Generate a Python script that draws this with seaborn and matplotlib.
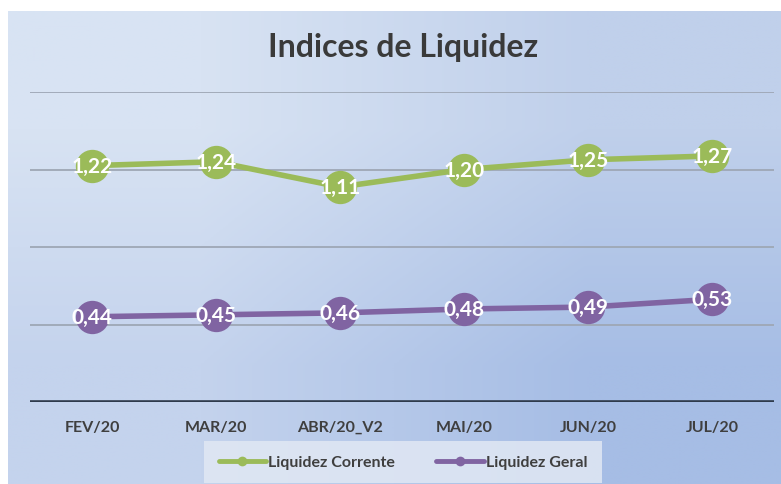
import numpy as np
import pandas as pd
import seaborn as sns
import matplotlib.pyplot as plt

# Data
meses = ["FEV/20", "MAR/20", "ABR/20_V2", "MAI/20", "JUN/20", "JUL/20"]
liquidez_corrente = [1.22, 1.24, 1.11, 1.20, 1.25, 1.27]
liquidez_geral = [0.44, 0.45, 0.46, 0.48, 0.49, 0.53]
series = ["Liquidez Corrente", "Liquidez Geral"]
cores = ["#9bbb59", "#8064a2"]

df = pd.DataFrame({
    "mes": meses * 2,
    "valor": liquidez_corrente + liquidez_geral,
    "serie": [series[0]] * len(meses) + [series[1]] * len(meses),
})

sns.set_theme(style="white")
plt.rcParams["font.family"] = ["Lato", "DejaVu Sans"]

fig = plt.figure(figsize=(7.81, 4.85), dpi=100)
fig.patch.set_facecolor("white")

# Gradient background panel
bg = fig.add_axes([8 / 781, 0, 1 - 8 / 781, 1 - 12 / 485])
grad = np.array([
    [[216, 227, 243], [192, 208, 235]],
    [[196, 211, 237], [166, 189, 229]],
]) / 255.0
bg.imshow(grad, aspect="auto", interpolation="bilinear", extent=[0, 1, 0, 1])
bg.set_axis_off()

# Plot area
ax = fig.add_axes([30 / 781, 82 / 485, 744 / 781, 310 / 485])
ax.patch.set_alpha(0)

for y in [0.4, 0.8, 1.2, 1.6]:
    ax.axhline(y, color="#9ea7b5", lw=1.3, zorder=0)
ax.axhline(0, color="#2f3b4c", lw=2.6, zorder=1)

sns.lineplot(data=df, x="mes", y="valor", hue="serie", palette=cores,
             marker="o", markersize=24, markeredgewidth=0, linewidth=4,
             sort=False, ax=ax, zorder=3)

for vals in [liquidez_corrente, liquidez_geral]:
    for i, v in enumerate(vals):
        ax.text(i, v, f"{v:.2f}".replace(".", ","), ha="center", va="center",
                color="white", fontsize=15, fontweight="bold", zorder=4)

ax.set_xlim(-0.5, len(meses) - 0.5)
ax.set_ylim(0, 1.6)
ax.set_yticks([])
ax.set_xlabel("")
ax.set_ylabel("")
ax.tick_params(axis="x", length=0, pad=13, labelsize=11.5, labelcolor="#3f3f3f")
for lbl in ax.get_xticklabels():
    lbl.set_fontweight("bold")
for s in ax.spines.values():
    s.set_visible(False)

fig.text(403 / 781, 1 - 47 / 485, "Indices de Liquidez", ha="center", va="center",
         fontsize=23, fontweight="bold", color="#3a3a3a")

handles, labels = ax.get_legend_handles_labels()
for h in handles:
    h.set_markersize(7)
    h.set_linewidth(3.5)
leg = ax.legend(handles, labels, loc="center", bbox_to_anchor=(403 / 781, 1 - 463 / 485),
                bbox_transform=fig.transFigure, ncol=2, frameon=True, handlelength=3,
                handletextpad=0.1, columnspacing=2.6, borderpad=0.6,
                prop={"weight": "bold", "size": 11.5})
leg.get_frame().set_facecolor("#e1e8f4")
leg.get_frame().set_alpha(0.85)
leg.get_frame().set_edgecolor("none")
leg.get_frame().set_boxstyle("square", pad=0.3)
for t in leg.get_texts():
    t.set_color("#3f3f3f")

fig.savefig("out.png", dpi=100)
